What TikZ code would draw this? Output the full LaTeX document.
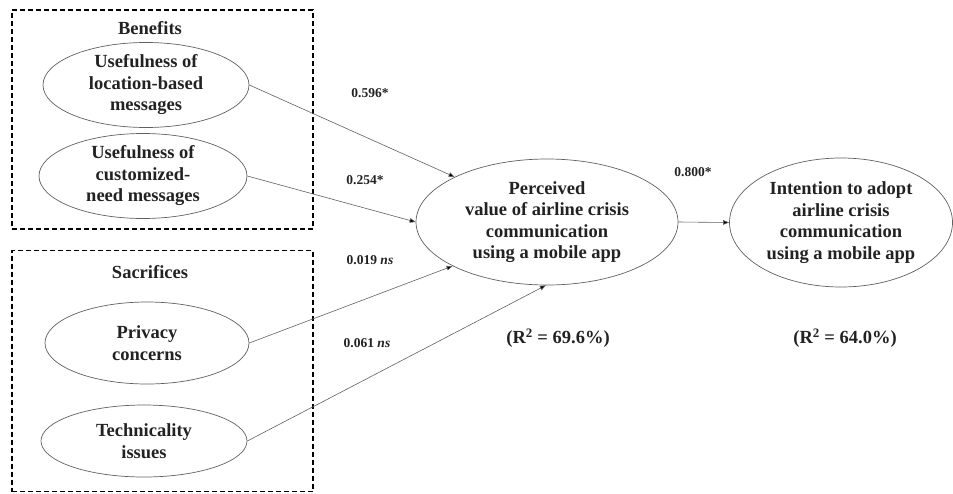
\documentclass[tikz,border=0pt]{standalone}
\usepackage{fontspec}
\setmainfont{Liberation Serif}
\usetikzlibrary{shapes.geometric,arrows.meta}
\definecolor{txt}{HTML}{222222}
\definecolor{edge}{HTML}{606060}
\tikzset{
  construct/.style={ellipse,draw=edge,line width=0.7pt,inner sep=0pt,align=center,text=txt,
    font=\fontsize{18.5}{21.5}\selectfont\bfseries},
  groupbox/.style={draw=black,line width=1.8pt,dash pattern=on 5pt off 3pt},
  grouptitle/.style={text=txt,font=\fontsize{18.5}{21.5}\selectfont\bfseries},
  path/.style={draw=edge,line width=0.6pt,-{Triangle[length=6pt,width=4.5pt,fill=black]}},
  coef/.style={text=txt,font=\fontsize{13.5}{16}\selectfont\bfseries},
  rsq/.style={text=txt,font=\fontsize{18.5}{21.5}\selectfont\bfseries}
}
\begin{document}
\begin{tikzpicture}[x=1pt,y=-1pt]
\useasboundingbox (0,0) rectangle (953,493);
% group boxes
\node[groupbox,minimum width=301pt,minimum height=219pt,inner sep=0pt] (bbox) at (162.5,119.5) {};
\node[groupbox,minimum width=301pt,minimum height=241pt,inner sep=0pt] (sbox) at (162.5,371) {};
\node[grouptitle] (btitle) at (150,28) {Benefits};
\node[grouptitle] (stitle) at (150,272) {Sacrifices};
% constructs
\node[construct,minimum width=206pt,minimum height=76pt] (loc) at (146,85) {Usefulness of\\location-based\\messages};
\node[construct,minimum width=208pt,minimum height=74pt] (cus) at (143,176) {Usefulness of\\customized-\\need messages};
\node[construct,minimum width=204pt,minimum height=82pt] (priv) at (147,343) {Privacy\\concerns};
\node[construct,minimum width=206pt,minimum height=72pt] (tech) at (144,441) {Technicality\\issues};
\node[construct,minimum width=262pt,minimum height=126pt] (pv) at (547,222) {Perceived\\value of airline crisis\\communication\\using a mobile app};
\node[construct,minimum width=223pt,minimum height=129pt] (int) at (841,222.5) {Intention to adopt\\airline crisis\\communication\\using a mobile app};
% paths
\draw[path] (loc.east) -- (pv.154);
\draw[path] (cus.east) -- (pv.180);
\draw[path] (priv.east) -- (pv.205);
\draw[path] (tech.east) -- (pv.269);
\draw[path] (pv.east) -- (int.west);
% coefficients
\node[coef] (c1) at (370,93) {0.596*};
\node[coef] (c2) at (365,180) {0.254*};
\node[coef] (c3) at (370,260) {0.019 \textit{ns}};
\node[coef] (c4) at (367,343) {0.061 \textit{ns}};
\node[coef] (c5) at (693,172) {0.800*};
% R squared
\node[rsq] (r1) at (558,338) {(R\textsuperscript{2} = 69.6\%)};
\node[rsq] (r2) at (845,338) {(R\textsuperscript{2} = 64.0\%)};
\end{tikzpicture}
\end{document}
